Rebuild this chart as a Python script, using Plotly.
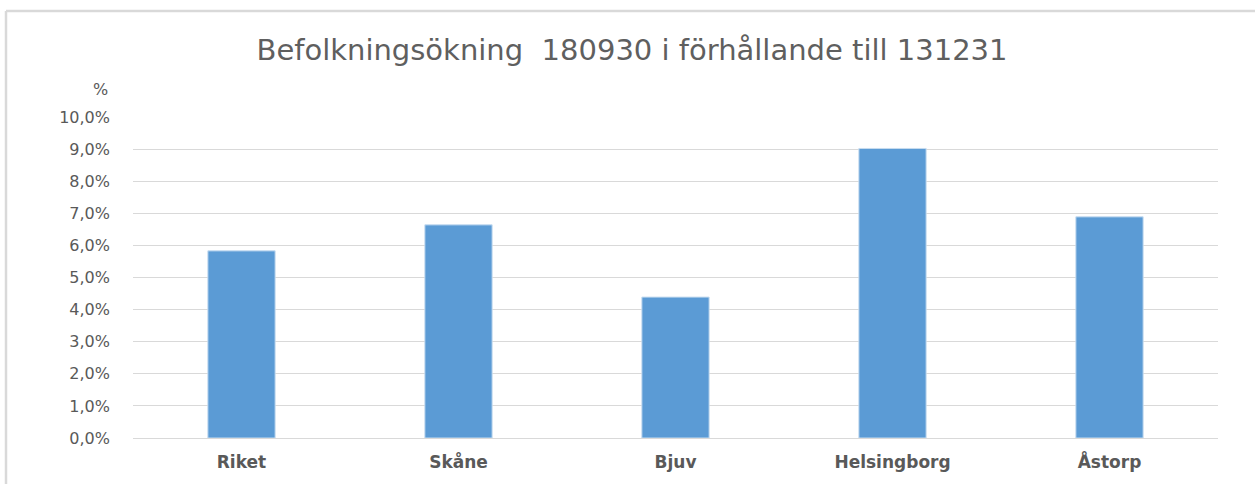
import plotly.graph_objects as go

categories = ["Riket", "Skåne", "Bjuv", "Helsingborg", "Åstorp"]
values = [5.83, 6.64, 4.39, 9.02, 6.89]
tick_vals = [0, 1, 2, 3, 4, 5, 6, 7, 8, 9, 10]
tick_text = [f"{v:.1f}".replace(".", ",") + "%" for v in tick_vals]
title_text = "Befolkningsökning  180930 i förhållande till 131231"

W, H = 1255, 484
L, R, T, B = 133, 37, 117, 46
pw, ph = W - L - R, H - T - B

def px_to_paper_x(px):
    return (px - L) / pw

def px_to_paper_y(py):
    return (H - B - py) / ph

fig = go.Figure()
fig.add_trace(go.Bar(
    x=categories, y=values,
    marker=dict(color="#5b9bd5", line=dict(color="#c6dcf0", width=1)),
    width=0.31,
    hoverinfo="x+y",
))

fig.update_layout(
    width=W, height=H,
    margin=dict(l=L, r=R, t=T, b=B),
    paper_bgcolor="white", plot_bgcolor="white",
    showlegend=False,
    title=dict(text=title_text, x=px_to_paper_x(632), xref="paper", xanchor="center",
               y=1 - 50 / H, yanchor="middle",
               font=dict(family="DejaVu Sans", size=29, color="#5f5f5f")),
    font=dict(family="DejaVu Sans", color="#595959"),
)
fig.update_xaxes(
    showgrid=False, showline=False, ticks="",
    tickfont=dict(family="DejaVu Sans", size=17, color="#595959", weight="bold"),
    ticklabelstandoff=12,
)
fig.update_yaxes(
    range=[0, 10], tickvals=tick_vals, ticktext=tick_text,
    showgrid=True, gridcolor="#d9d9d9", gridwidth=1,
    zeroline=True, zerolinecolor="#d9d9d9", zerolinewidth=1,
    showline=False, ticks="",
    tickfont=dict(family="DejaVu Sans", size=16, color="#595959"),
    ticklabelstandoff=22,
)
fig.add_annotation(
    text="%", xref="paper", yref="paper",
    x=px_to_paper_x(110), y=px_to_paper_y(89),
    xanchor="right", yanchor="middle", showarrow=False,
    font=dict(family="DejaVu Sans", size=16, color="#595959"),
)
# chart border (top and left)
fig.add_shape(type="line", xref="paper", yref="paper",
              x0=px_to_paper_x(6), x1=px_to_paper_x(1260),
              y0=px_to_paper_y(11), y1=px_to_paper_y(11),
              line=dict(color="#d9d9d9", width=2.5))
fig.add_shape(type="line", xref="paper", yref="paper",
              x0=px_to_paper_x(6), x1=px_to_paper_x(6),
              y0=px_to_paper_y(11), y1=px_to_paper_y(490),
              line=dict(color="#d9d9d9", width=2.5))

fig.write_html("out.html", config={"displayModeBar": False},
               post_script="document.body.style.margin='0px';")
